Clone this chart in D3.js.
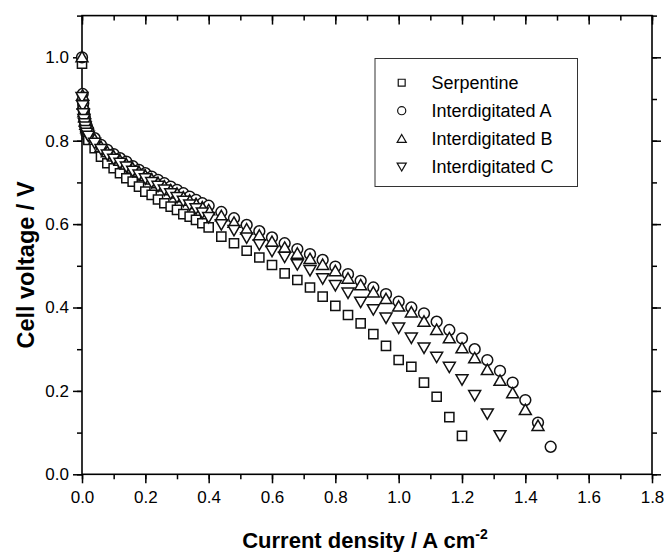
<!DOCTYPE html>
<html>
<head>
<meta charset="utf-8">
<script src="https://cdn.jsdelivr.net/npm/d3@7"></script>
<style>
  html, body { margin: 0; padding: 0; background: #fff; }
  svg { display: block; font-family: "Liberation Sans", Arial, sans-serif; }
</style>
</head>
<body>
<svg id="chart" width="664" height="552"></svg>
<script>
// ---- data ----
const currentDensity = [
  0, 0.002, 0.004, 0.006, 0.008, 0.010, 0.012, 0.015,
  0.02, 0.04, 0.06, 0.08, 0.10, 0.12, 0.14, 0.16, 0.18, 0.20,
  0.22, 0.24, 0.26, 0.28, 0.30, 0.32, 0.34, 0.36, 0.38, 0.40,
  0.44, 0.48, 0.52, 0.56, 0.60, 0.64, 0.68, 0.72, 0.76, 0.80,
  0.84, 0.88, 0.92, 0.96, 1.00, 1.04, 1.08, 1.12, 1.16, 1.20,
  1.24, 1.28, 1.32, 1.36, 1.40, 1.44, 1.48
];
const serpentine = [
  0.985, 0.890, 0.870, 0.855, 0.843, 0.833, 0.825, 0.815,
  0.802, 0.782, 0.762, 0.746, 0.734, 0.722, 0.710, 0.702, 0.690, 0.678,
  0.670, 0.659, 0.650, 0.642, 0.634, 0.624, 0.618, 0.610, 0.602, 0.592,
  0.570, 0.554, 0.536, 0.520, 0.502, 0.482, 0.466, 0.448, 0.426, 0.404,
  0.382, 0.362, 0.336, 0.308, 0.274, 0.258, 0.220, 0.186, 0.137, 0.092
];
const interdigitatedA = [
  1.000, 0.912, 0.890, 0.872, 0.860, 0.850, 0.842, 0.835,
  0.826, 0.806, 0.790, 0.778, 0.768, 0.758, 0.750, 0.739, 0.730, 0.722,
  0.714, 0.706, 0.698, 0.690, 0.682, 0.674, 0.666, 0.658, 0.650, 0.644,
  0.629, 0.614, 0.598, 0.583, 0.568, 0.554, 0.540, 0.528, 0.514, 0.498,
  0.480, 0.464, 0.448, 0.432, 0.414, 0.400, 0.386, 0.366, 0.346, 0.326,
  0.300, 0.274, 0.248, 0.220, 0.178, 0.124, 0.066
];
const interdigitatedB = [
  1.000, 0.908, 0.886, 0.868, 0.856, 0.846, 0.838, 0.830,
  0.822, 0.802, 0.785, 0.772, 0.762, 0.752, 0.743, 0.733, 0.724, 0.715,
  0.707, 0.698, 0.690, 0.681, 0.673, 0.664, 0.656, 0.648, 0.640, 0.633,
  0.619, 0.603, 0.587, 0.572, 0.557, 0.543, 0.529, 0.516, 0.502, 0.487,
  0.469, 0.453, 0.436, 0.420, 0.402, 0.388, 0.366, 0.346, 0.326, 0.302,
  0.278, 0.250, 0.224, 0.194, 0.154, 0.116
];
const interdigitatedC = [
  0.905, 0.885, 0.866, 0.852, 0.842, 0.834, 0.826, 0.819,
  0.812, 0.795, 0.780, 0.767, 0.757, 0.747, 0.738, 0.728, 0.719, 0.710,
  0.701, 0.692, 0.683, 0.674, 0.665, 0.656, 0.647, 0.638, 0.628, 0.617,
  0.600, 0.586, 0.568, 0.552, 0.536, 0.522, 0.504, 0.490, 0.470, 0.454,
  0.436, 0.414, 0.396, 0.376, 0.352, 0.328, 0.304, 0.282, 0.258, 0.228,
  0.190, 0.146, 0.094
];
const seriesNames = ["Serpentine", "Interdigitated A", "Interdigitated B", "Interdigitated C"];
const xTickValues = [0, 0.2, 0.4, 0.6, 0.8, 1.0, 1.2, 1.4, 1.6, 1.8];
const yTickValues = [0, 0.2, 0.4, 0.6, 0.8, 1.0];
const xTitle = "Current density / A cm";
const xTitleSup = "-2";
const yTitle = "Cell voltage / V";

// ---- layout ----
const plotL = 82, plotR = 652, plotT = 15.6, plotB = 474.3;
const svg = d3.select("#chart");
const x = d3.scaleLinear().domain([0, 1.8]).range([plotL, plotR]);
const y = d3.scaleLinear().domain([0, 1.1]).range([plotB, plotT]);

const xMinor = d3.range(0, 1.8001, 0.1);
const yMinor = d3.range(0, 1.1001, 0.1);

function styleAxis(g) {
  g.select(".domain").remove();
  g.selectAll(".tick line").attr("stroke", "#000").attr("stroke-width", 1.5);
  g.selectAll(".tick text").attr("fill", "#000").attr("font-size", 17)
    .attr("font-family", "'Liberation Sans', Arial, sans-serif");
}

// minor ticks (outer axes)
svg.append("g").attr("transform", `translate(0,${plotB})`)
  .call(d3.axisBottom(x).tickValues(xMinor).tickSize(5).tickFormat(""))
  .call(styleAxis);
svg.append("g").attr("transform", `translate(${plotL},0)`)
  .call(d3.axisLeft(y).tickValues(yMinor).tickSize(5).tickFormat(""))
  .call(styleAxis);
// major ticks with labels
svg.append("g").attr("transform", `translate(0,${plotB})`)
  .call(d3.axisBottom(x).tickValues(xTickValues).tickSize(9).tickPadding(8).tickFormat(d3.format(".1f")))
  .call(styleAxis);
svg.append("g").attr("transform", `translate(${plotL},0)`)
  .call(d3.axisLeft(y).tickValues(yTickValues).tickSize(9).tickPadding(4).tickFormat(d3.format(".1f")))
  .call(styleAxis);
// mirrored inner ticks on top and right
svg.append("g").attr("transform", `translate(0,${plotT})`)
  .call(d3.axisBottom(x).tickValues(xMinor).tickSize(5).tickFormat(""))
  .call(styleAxis);
svg.append("g").attr("transform", `translate(0,${plotT})`)
  .call(d3.axisBottom(x).tickValues(xTickValues).tickSize(9).tickFormat(""))
  .call(styleAxis);
svg.append("g").attr("transform", `translate(${plotR},0)`)
  .call(d3.axisLeft(y).tickValues(yMinor).tickSize(-5).tickFormat(""))
  .call(styleAxis);
svg.append("g").attr("transform", `translate(${plotR},0)`)
  .call(d3.axisLeft(y).tickValues(yTickValues).tickSize(-9).tickFormat(""))
  .call(styleAxis);

// frame
svg.append("rect").attr("x", plotL).attr("y", plotT)
  .attr("width", plotR - plotL).attr("height", plotB - plotT)
  .attr("fill", "none").attr("stroke", "#000").attr("stroke-width", 1.6);

// ---- markers ----
const symbolTypes = [d3.symbolSquare, d3.symbolCircle, d3.symbolTriangle, d3.symbolTriangle];
const symbolSizes = [84, 92, 62, 62];
const symbolRot = [0, 0, 0, 180];
const allSeries = [serpentine, interdigitatedA, interdigitatedB, interdigitatedC];

allSeries.forEach((vals, i) => {
  const pts = vals.map((v, k) => [currentDensity[k], v]);
  const sym = d3.symbol().type(symbolTypes[i]).size(symbolSizes[i]);
  svg.append("g").selectAll("path").data(pts).join("path")
    .attr("d", sym)
    .attr("transform", d => {
      const dy = symbolTypes[i] === d3.symbolTriangle ? (symbolRot[i] ? -1 : 1) : 0;
      return `translate(${x(d[0])},${y(d[1]) + dy}) rotate(${symbolRot[i]})`;
    })
    .attr("fill", "#fff").attr("stroke", "#111").attr("stroke-width", 1.5);
});

// ---- legend ----
const lg = svg.append("g");
lg.append("rect").attr("x", 375).attr("y", 58.5).attr("width", 202.5).attr("height", 128)
  .attr("fill", "#fff").attr("stroke", "#333").attr("stroke-width", 1);
const legendSizes = [48, 52, 36, 36];
seriesNames.forEach((name, i) => {
  const cy = 82.7 + i * 28;
  const sym = d3.symbol().type(symbolTypes[i]).size(legendSizes[i]);
  lg.append("path").attr("d", sym)
    .attr("transform", `translate(401.7,${cy + (symbolTypes[i] === d3.symbolTriangle ? (symbolRot[i] ? -1 : 1) : 0)}) rotate(${symbolRot[i]})`)
    .attr("fill", "#fff").attr("stroke", "#111").attr("stroke-width", 1.2);
  lg.append("text").attr("x", 431.5).attr("y", cy + 6.3)
    .attr("font-size", 18).attr("fill", "#000").text(name);
});

// ---- axis titles ----
const xt = svg.append("text").attr("x", 365).attr("y", 547.5)
  .attr("text-anchor", "middle").attr("font-size", 22).attr("font-weight", "bold").attr("fill", "#000");
xt.append("tspan").text(xTitle);
xt.append("tspan").attr("font-size", 14).attr("dy", -9).text(xTitleSup);

svg.append("text").attr("transform", `translate(34,265) rotate(-90)`)
  .attr("text-anchor", "middle").attr("font-size", 23.5).attr("font-weight", "bold").attr("fill", "#000")
  .text(yTitle);
</script>
</body>
</html>
